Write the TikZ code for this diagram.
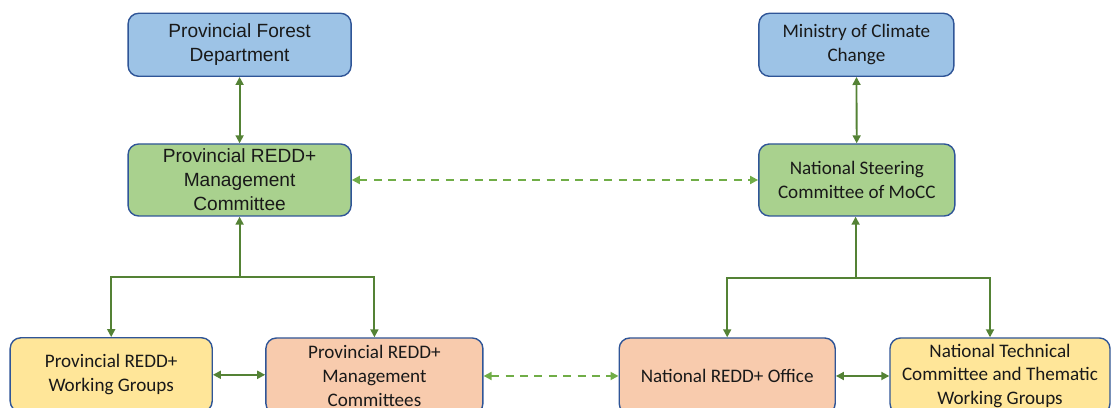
\documentclass[tikz,border=0pt]{standalone}
\usepackage{fontspec}
\setmainfont{Carlito}
\newfontfamily\arialfont{Liberation Sans}
\usetikzlibrary{arrows.meta, positioning}
\definecolor{provblue}{RGB}{157,195,230}
\definecolor{boxedge}{RGB}{47,85,151}
\definecolor{steergreen}{RGB}{169,209,142}
\definecolor{groupyellow}{RGB}{255,230,153}
\definecolor{officepeach}{RGB}{248,203,173}
\definecolor{linkgreen}{RGB}{84,130,53}
\definecolor{dashgreen}{RGB}{112,173,71}

\begin{document}
\begin{tikzpicture}[
    unit/.style={draw=boxedge, line width=1pt, rounded corners=7.5pt, align=center, inner sep=2pt,
        font=\fontsize{13.6}{16.8}\selectfont, text=black!90},
    link/.style={draw=linkgreen, line width=1.3pt, {Triangle[length=2mm,width=2mm]}-{Triangle[length=2mm,width=2mm]}},
    feed/.style={draw=linkgreen, line width=1.3pt, -{Triangle[length=2mm,width=2mm]}},
    dlink/.style={draw=dashgreen, line width=1.3pt, dash pattern=on 2mm off 1.6mm,
        {Triangle[length=2mm,width=2mm]}-{Triangle[length=2mm,width=2mm]}}
]
\useasboundingbox (0,0) rectangle (27.775,10.2);

% Provincial side
\node[unit, fill=provblue, minimum width=5.575cm, minimum height=1.575cm, font=\arialfont\fontsize{13.6}{17}\selectfont] (pfd) at (5.99, 9.08) {Provincial Forest\\Department};
\node[unit, fill=steergreen, minimum width=5.575cm, minimum height=1.8cm, font=\arialfont\fontsize{13.6}{17}\selectfont] (prmc) at (5.99, 5.70) {Provincial REDD+\\Management\\Committee};
\node[unit, fill=groupyellow, minimum width=5.05cm, minimum height=1.85cm] (pwg) at (2.78, 0.83) {Provincial REDD+\\Working Groups};
\node[unit, fill=officepeach, minimum width=5.425cm, minimum height=1.9cm] (prmcs) at (9.36, 0.80) {Provincial REDD+\\Management\\Committees};

% National side
\node[unit, fill=provblue, minimum width=4.875cm, minimum height=1.575cm] (mocc) at (21.41, 9.08) {Ministry of Climate\\Change};
\node[unit, fill=steergreen, minimum width=4.9cm, minimum height=1.8cm] (nsc) at (21.42, 5.70) {National Steering\\Committee of MoCC};
\node[unit, fill=officepeach, minimum width=5.4cm, minimum height=1.9cm] (nro) at (18.18, 0.80) {National REDD+ Office};
\node[unit, fill=groupyellow, minimum width=5.5cm, minimum height=1.9cm] (ntc) at (25.0, 0.80) {National Technical\\Committee and Thematic\\Working Groups};

% branch points
\coordinate (pjoin) at (5.99, 3.275);
\coordinate (njoin) at (21.39, 3.25);

% links
\draw[link] (pfd) -- (prmc);
\draw[link] (mocc) -- (nsc);
\draw[dlink] (prmc) -- (nsc);

\draw[feed] (pjoin) -- (prmc);
\draw[feed] (pjoin) -| (pwg);
\draw[feed] (pjoin) -| (prmcs);

\draw[feed] (njoin) -- (njoin |- nsc.south);
\draw[feed] (njoin) -| (nro);
\draw[feed] (njoin) -| ([xshift=-0.25cm]ntc.north);

\draw[link] (pwg) -- (pwg -| prmcs.west);
\draw[dlink] (prmcs.east |- nro) -- (nro);
\draw[link] (nro) -- (ntc);

\end{tikzpicture}
\end{document}
